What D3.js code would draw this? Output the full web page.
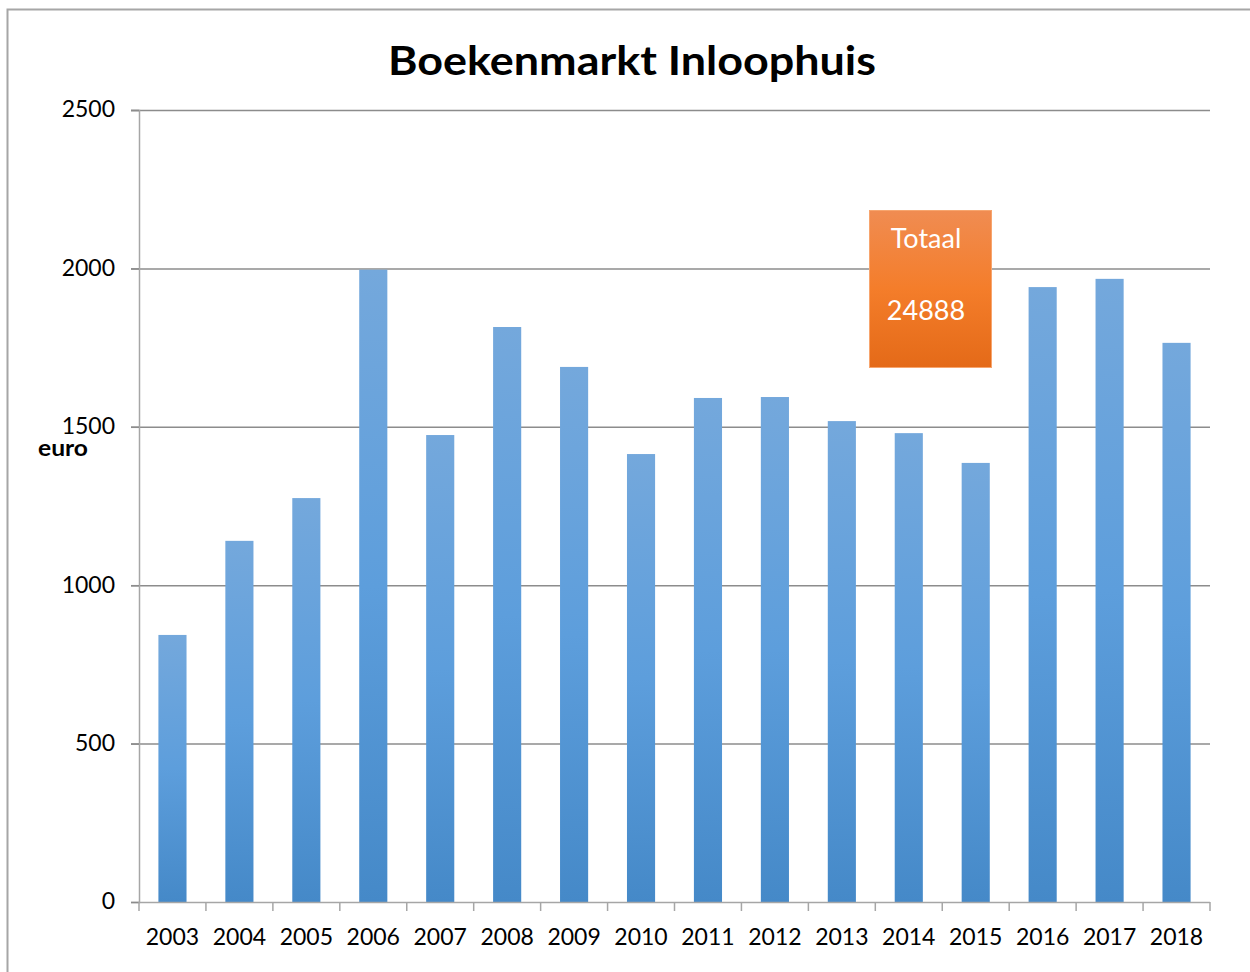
<!DOCTYPE html>
<html>
<head>
<meta charset="utf-8">
<script src="https://cdn.jsdelivr.net/npm/d3@7"></script>
<style>
  body { margin: 0; background: #fff; }
  svg { display: block; }
  .tick text { font-family: Lato, "Open Sans", sans-serif; }
</style>
</head>
<body>
<div id="chart"></div>
<script>
// data
var years = ["2003", "2004", "2005", "2006", "2007", "2008", "2009", "2010",
    "2011", "2012", "2013", "2014", "2015", "2016", "2017", "2018"];
var amounts = [843, 1140, 1275, 1996, 1474, 1815, 1689, 1414,
    1591, 1594, 1518, 1480, 1386, 1941, 1967, 1765];
var yTicks = [0, 500, 1000, 1500, 2000, 2500];
var totalLabel = ["Totaal", "24888"];

var W = 1250, H = 972;
var margin = { top: 110, right: 40, bottom: 70, left: 139 },
    width = 1210 - margin.left,
    height = 902 - margin.top;

var svg = d3.select("#chart").append("svg")
    .attr("width", W)
    .attr("height", H);

var defs = svg.append("defs");
var barGrad = defs.append("linearGradient")
    .attr("id", "barGrad").attr("x1", 0).attr("y1", 0).attr("x2", 0).attr("y2", 1);
barGrad.append("stop").attr("offset", "0%").attr("stop-color", "#74a8dc");
barGrad.append("stop").attr("offset", "50%").attr("stop-color", "#5d9edc");
barGrad.append("stop").attr("offset", "100%").attr("stop-color", "#4589c8");

var boxGrad = defs.append("linearGradient")
    .attr("id", "boxGrad").attr("x1", 0).attr("y1", 0).attr("x2", 0).attr("y2", 1);
boxGrad.append("stop").attr("offset", "0%").attr("stop-color", "#f08c52");
boxGrad.append("stop").attr("offset", "50%").attr("stop-color", "#f47d2a");
boxGrad.append("stop").attr("offset", "100%").attr("stop-color", "#e46a18");

// outer frame
svg.append("rect")
    .attr("x", 7.5).attr("y", 9.5)
    .attr("width", W + 20).attr("height", H + 20)
    .attr("fill", "none")
    .attr("stroke", "#a6a6a6")
    .attr("stroke-width", 2);

// title
svg.append("text")
    .attr("x", 632).attr("y", 75)
    .attr("text-anchor", "middle")
    .attr("font-family", "Lato, 'Open Sans', sans-serif")
    .attr("font-weight", "bold")
    .attr("font-size", 40)
    .attr("textLength", 488)
    .attr("lengthAdjust", "spacingAndGlyphs")
    .attr("fill", "#000")
    .text("Boekenmarkt Inloophuis");

var g = svg.append("g")
    .attr("transform", "translate(" + margin.left + "," + margin.top + ")");

// scales
var x = d3.scaleBand()
    .domain(years)
    .range([0, width])
    .paddingInner(0.58)
    .paddingOuter(0.29);
var xb = d3.scaleBand().domain(years).range([0, width]);
var y = d3.scaleLinear()
    .domain([0, 2500])
    .range([height, 0]);

// gridlines
g.append("g")
    .selectAll("line")
    .data(yTicks.slice(1))
    .enter().append("line")
    .attr("x1", -8).attr("x2", width)
    .attr("y1", function (d) { return y(d) + 0.5; })
    .attr("y2", function (d) { return y(d) + 0.5; })
    .attr("stroke", "#8c8c8c")
    .attr("stroke-width", 1.5);

// y axis
var yAxis = g.append("g")
    .call(d3.axisLeft(y).tickValues(yTicks).tickFormat(d3.format("d"))
        .tickSize(8).tickPadding(16));
yAxis.select(".domain").attr("stroke", "#a6a6a6").attr("stroke-width", 1.5);
yAxis.selectAll(".tick line").attr("stroke", "#8c8c8c").attr("stroke-width", 1.5);
yAxis.selectAll(".tick text").attr("font-size", 23).attr("fill", "#000")
    .attr("dy", "0.3em");

// bars
g.selectAll(".bar")
    .data(amounts)
    .enter().append("rect")
    .attr("class", "bar")
    .attr("x", function (d, i) { return x(years[i]); })
    .attr("width", x.bandwidth())
    .attr("y", function (d) { return y(d); })
    .attr("height", function (d) { return height - y(d); })
    .attr("fill", "url(#barGrad)");

// x axis with ticks at category boundaries
var xAxis = g.append("g")
    .attr("transform", "translate(0," + height + ")");
xAxis.append("line")
    .attr("x1", 0).attr("x2", width)
    .attr("y1", 0.5).attr("y2", 0.5)
    .attr("stroke", "#a6a6a6").attr("stroke-width", 1.5);
xAxis.selectAll(".bound")
    .data(years.concat(["end"]))
    .enter().append("line")
    .attr("class", "bound")
    .attr("x1", function (d, i) { return i < years.length ? xb(d) : width; })
    .attr("x2", function (d, i) { return i < years.length ? xb(d) : width; })
    .attr("y1", 0).attr("y2", 9)
    .attr("stroke", "#a6a6a6").attr("stroke-width", 1.5);
xAxis.selectAll(".xlab")
    .data(years)
    .enter().append("text")
    .attr("class", "xlab")
    .attr("x", function (d) { return xb(d) + xb.bandwidth() / 2; })
    .attr("y", 43)
    .attr("text-anchor", "middle")
    .attr("font-family", "Lato, 'Open Sans', sans-serif")
    .attr("font-size", 23)
    .attr("fill", "#000")
    .text(function (d) { return d; });

// y axis title
svg.append("text")
    .attr("x", 38).attr("y", 456)
    .attr("font-family", "Lato, 'Open Sans', sans-serif")
    .attr("font-weight", "bold")
    .attr("font-size", 22)
    .attr("textLength", 50)
    .attr("lengthAdjust", "spacingAndGlyphs")
    .attr("fill", "#000")
    .text("euro");

// total box
var box = svg.append("g").attr("transform", "translate(869,210)");
box.append("rect")
    .attr("x", 0.5).attr("y", 0.5)
    .attr("width", 122).attr("height", 157)
    .attr("fill", "url(#boxGrad)")
    .attr("stroke", "#f7a56e")
    .attr("stroke-width", 1);
box.selectAll("text")
    .data(totalLabel)
    .enter().append("text")
    .attr("x", 57)
    .attr("y", function (d, i) { return 38 + i * 72; })
    .attr("text-anchor", "middle")
    .attr("font-family", "Lato, 'Open Sans', sans-serif")
    .attr("font-size", 27)
    .attr("fill", "#fff")
    .text(function (d) { return d; });
</script>
</body>
</html>
